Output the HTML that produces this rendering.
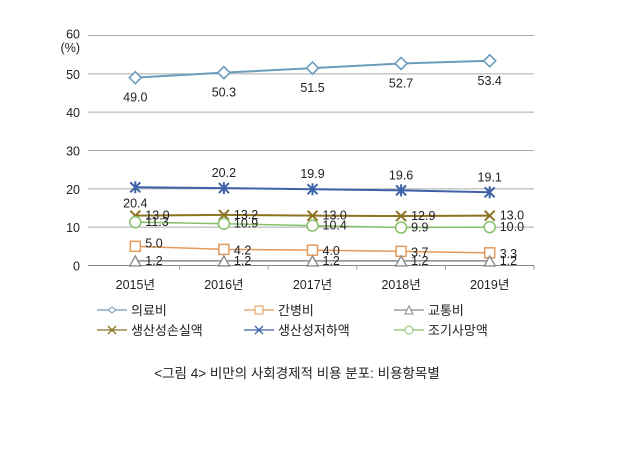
<!DOCTYPE html>
<html><head><meta charset="utf-8"><style>
body{margin:0;background:#fff;width:631px;height:447px;overflow:hidden}
svg text{font-family:"Liberation Sans","Noto Sans CJK KR",sans-serif}
</style></head><body>
<svg id="c" width="631" height="447"></svg>
<script>
const categories=["2015년","2016년","2017년","2018년","2019년"];
const yTicks=[0,10,20,30,40,50,60];
const medical=[49.0,50.3,51.5,52.7,53.4];
const care=[5.0,4.2,4.0,3.7,3.3];
const transport=[1.2,1.2,1.2,1.2,1.2];
const loss=[13.0,13.2,13.0,12.9,13.0];
const reduction=[20.4,20.2,19.9,19.6,19.1];
const death=[11.3,10.9,10.4,9.9,10.0];
const names=["의료비","간병비","교통비","생산성손실액","생산성저하액","조기사망액"];
const NS="http://www.w3.org/2000/svg";
const svg=document.getElementById('c');
const x0=91,x1=534,y0=265.5,y1=35.5;
const bw=(x1-x0)/categories.length;
function X(i){return x0+bw*(i+0.5);}
function Y(v){return y0-(v/60)*(y0-y1);}
function el(t,a,p){const e=document.createElementNS(NS,t);for(const k in a)e.setAttribute(k,a[k]);(p||svg).appendChild(e);return e;}
function txt(s,x,y,a,p){const e=el('text',Object.assign({x:x,y:y,'font-size':12.5,fill:'#222'},a||{}),p);e.textContent=s;return e;}
yTicks.forEach(v=>{
 const g=el('line',{x1:x0-3,x2:x1,y1:Y(v),y2:Y(v),stroke:v===0?'#888':'#aaa','stroke-width':1});
 
 
 const t=txt(String(v),80,Y(v)+(v===60?3:5),{'text-anchor':'end'});
 
 
});
const u=txt("(%)",80,52,{'text-anchor':'end'});


for(let i=1;i<=categories.length;i++){el('line',{x1:x0+bw*i,x2:x0+bw*i,y1:y0,y2:y0+4,stroke:'#999'});}
categories.forEach((c,i)=>{
 const t=txt(c,X(i),289,{'text-anchor':'middle'});
 
 
});
function marker(type,x,y,col,p){
 if(type==='diamond')el('path',{d:`M${x-6} ${y}L${x} ${y-6}L${x+6} ${y}L${x} ${y+6}Z`,fill:'#fff',stroke:col,'stroke-width':1.6},p);
 else if(type==='square')el('rect',{x:x-5,y:y-5,width:10,height:10,fill:'#fff',stroke:col,'stroke-width':1.5},p);
 else if(type==='tri')el('path',{d:`M${x-5.5} ${y+5}L${x} ${y-5}L${x+5.5} ${y+5}Z`,fill:'#fff',stroke:col,'stroke-width':1.4},p);
 else if(type==='x'){el('path',{d:`M${x-5} ${y-5}L${x+5} ${y+5}M${x-5} ${y+5}L${x+5} ${y-5}`,stroke:col,'stroke-width':2},p);}
 else if(type==='star'){el('path',{d:`M${x-5} ${y-5}L${x+5} ${y+5}M${x-5} ${y+5}L${x+5} ${y-5}M${x} ${y-6}L${x} ${y+6}`,stroke:col,'stroke-width':2},p);}
 else if(type==='circle')el('circle',{cx:x,cy:y,r:5.5,fill:'#fff',stroke:col,'stroke-width':1.5},p);
}
const series=[
 {d:medical,c:'#6b9cbd',m:'diamond',w:2,lab:(i)=>[X(i),Y(medical[i])+24,'middle']},
 {d:care,c:'#e39a5a',m:'square',w:1.5,lab:(i)=>[X(i)+10,Y(care[i])+(i==0?1:5),'start']},
 {d:transport,c:'#8a8a8a',m:'tri',w:1.5,lab:(i)=>[X(i)+10,Y(transport[i])+4,'start']},
 {d:loss,c:'#8d7220',m:'x',w:2,lab:(i)=>[X(i)+10,Y(loss[i])+4,'start']},
 {d:reduction,c:'#3e62a8',m:'star',w:2,lab:(i)=>i==0?[X(i),Y(reduction[i])+20,'middle']:[X(i),Y(reduction[i])-11,'middle']},
 {d:death,c:'#86c06a',m:'circle',w:1.5,lab:(i)=>[X(i)+10,Y(death[i])+4,'start']}
];
const keys=['medical','care','transport','loss','reduction','death'];
series.forEach((s,k)=>{
 const g=el('g',{});
 
 
 el('polyline',{points:s.d.map((v,i)=>X(i)+','+Y(v)).join(' '),fill:'none',stroke:s.c,'stroke-width':s.w},g);
 s.d.forEach((v,i)=>{marker(s.m,X(i),Y(v),s.c,g);});
 s.d.forEach((v,i)=>{const p=s.lab(i);const t=txt(v.toFixed(1),p[0],p[1],{'text-anchor':p[2]},g);
  
  });
});
const lpos=[[105,310],[252,310],[402,310],[105,330],[252,330],[402,330]];
series.forEach((s,k)=>{
 const g=el('g',{});
 
 
 const [lx,ly]=lpos[k];
 el('line',{x1:lx-8,x2:lx+22,y1:ly,y2:ly,stroke:s.c,'stroke-width':1.3},g);
 const m=s.m;
 if(m==='diamond')el('path',{d:`M${lx+3} ${ly}L${lx+7} ${ly-3}L${lx+11} ${ly}L${lx+7} ${ly+3}Z`,fill:'#fff',stroke:s.c},g);
 else if(m==='square')el('rect',{x:lx+3,y:ly-4,width:8,height:8,fill:'#fff',stroke:s.c},g);
 else if(m==='tri')el('path',{d:`M${lx+3} ${ly+4}L${lx+7} ${ly-4}L${lx+11} ${ly+4}Z`,fill:'#fff',stroke:s.c},g);
 else if(m==='circle')el('circle',{cx:lx+7,cy:ly,r:4,fill:'#fff',stroke:s.c},g);
 else el('path',{d:`M${lx+3} ${ly-4}L${lx+11} ${ly+4}M${lx+3} ${ly+4}L${lx+11} ${ly-4}`,stroke:s.c,'stroke-width':1.3},g);
 txt(names[k],lx+26,ly+5,{'font-size':13},g);
});
const cap=txt("<그림 4> 비만의 사회경제적 비용 분포: 비용항목별",297,378,{'text-anchor':'middle','font-size':13.5});


</script>
</body></html>
